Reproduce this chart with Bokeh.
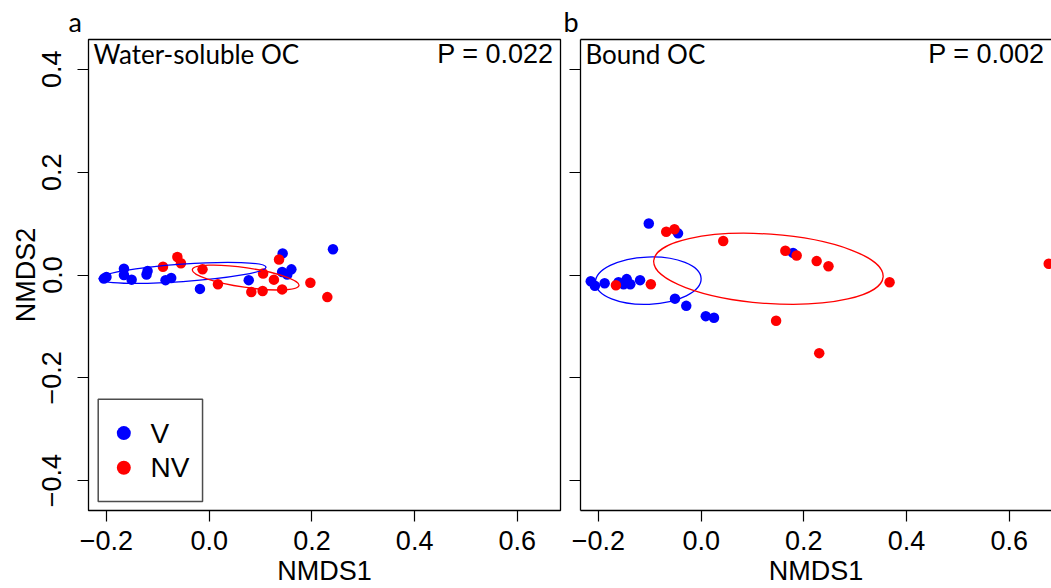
from bokeh.plotting import figure
from bokeh.models import Range1d, FixedTicker, LinearAxis, Label
from bokeh.layouts import row
from bokeh.embed import file_html
from bokeh.resources import INLINE

# ---------------- data ----------------
# Panel a: Water-soluble OC
a_v_x = [-0.205, -0.200, -0.166, -0.166, -0.151, -0.122, -0.120, -0.085, -0.074, -0.018, 0.077, 0.142, 0.143, 0.152, 0.160, 0.241]
a_v_y = [-0.007, -0.004, 0.012, 0.000, -0.009, 0.001, 0.008, -0.010, -0.006, -0.027, -0.010, 0.006, 0.042, 0.001, 0.011, 0.050]
a_nv_x = [-0.090, -0.062, -0.055, -0.013, 0.017, 0.082, 0.104, 0.105, 0.126, 0.136, 0.142, 0.197, 0.230]
a_nv_y = [0.016, 0.035, 0.023, 0.011, -0.018, -0.033, -0.031, 0.003, -0.009, 0.030, -0.028, -0.015, -0.043]

# Panel b: Bound OC
b_v_x = [-0.215, -0.207, -0.188, -0.161, -0.151, -0.145, -0.138, -0.119, -0.102, -0.051, -0.045, -0.029, 0.009, 0.025, 0.179]
b_v_y = [-0.012, -0.021, -0.016, -0.014, -0.018, -0.008, -0.018, -0.010, 0.100, -0.046, 0.081, -0.060, -0.080, -0.083, 0.043]
b_nv_x = [-0.166, -0.098, -0.068, -0.052, 0.043, 0.146, 0.164, 0.186, 0.225, 0.230, 0.248, 0.367, 0.677]
b_nv_y = [-0.020, -0.018, 0.084, 0.089, 0.066, -0.089, 0.047, 0.038, 0.027, -0.152, 0.017, -0.014, 0.022]

# group ellipses (V, NV): centre, full width, full height, angle (rad)
groups = ["V", "NV"]
group_colors = ["#0000FF", "#FF0000"]
a_ell_x = [-0.052, 0.071]
a_ell_y = [0.004, -0.005]
a_ell_w = [0.326, 0.210]
a_ell_h = [0.034, 0.038]
a_ell_angle = [0.07, -0.146]
b_ell_x = [-0.103, 0.131]
b_ell_y = [-0.011, 0.012]
b_ell_w = [0.206, 0.448]
b_ell_h = [0.092, 0.135]
b_ell_angle = [0.04, -0.07]

titles = ["Water-soluble OC", "Bound OC"]
p_values = ["P = 0.022", "P = 0.002"]
panel_letters = ["a", "b"]
x_ticks = [-0.2, 0.0, 0.2, 0.4, 0.6]
x_tick_labels = ["\u22120.2", "0.0", "0.2", "0.4", "0.6"]
y_ticks = [-0.4, -0.2, 0.0, 0.2, 0.4]
y_tick_labels = ["\u22120.4", "\u22120.2", "0.0", "0.2", "0.4"]

# ---------------- layout constants ----------------
PX = 513.4
XMIN, XMAX = -0.235, 0.684
YMIN, YMAX = -0.458, 0.458
FH = 471
FW_A = 472
FW_B = 471
XMAX_B = XMIN + FW_B / PX

TICK_FONT = "Liberation Sans"
TITLE_FONT = "Lato"
FS = "27px"


def style_axis(ax):
    ax.major_tick_out = 11
    ax.major_tick_in = 0
    ax.minor_tick_out = 0
    ax.minor_tick_in = 0
    ax.minor_tick_line_color = None
    ax.major_tick_line_color = "black"
    ax.major_tick_line_width = 1.2
    ax.major_label_text_font = TICK_FONT
    ax.major_label_text_font_size = FS
    ax.major_label_text_color = "black"
    ax.axis_label_text_font = TICK_FONT
    ax.axis_label_text_font_size = FS
    ax.axis_label_text_font_style = "normal"
    ax.axis_label_text_color = "black"


def make_panel(idx, xmax, fw, bl, br):
    p = figure(frame_width=fw, frame_height=FH,
               x_range=Range1d(XMIN, xmax), y_range=Range1d(YMIN, YMAX),
               output_backend="svg", toolbar_location=None,
               min_border_left=bl, min_border_right=br,
               min_border_top=39, min_border_bottom=70,
               background_fill_color="white", border_fill_color="white")
    p.xgrid.visible = False
    p.ygrid.visible = False
    xa = p.xaxis[0]
    ya = p.yaxis[0]
    xa.ticker = FixedTicker(ticks=x_ticks)
    ya.ticker = FixedTicker(ticks=y_ticks)
    style_axis(xa)
    style_axis(ya)
    xa.major_label_overrides = dict(zip(x_ticks, x_tick_labels))
    xa.axis_label = "NMDS1"
    xa.major_label_standoff = 9
    xa.axis_label_standoff = 3
    if idx == 0:
        ya.major_label_overrides = dict(zip(y_ticks, y_tick_labels))
        ya.major_label_orientation = "vertical"
        ya.major_label_standoff = 16
        ya.axis_label = "NMDS2"
        ya.axis_label_standoff = -1
    else:
        # right panel: tick marks only, no tick labels (as in the original)
        ya.major_label_overrides = {t: "" for t in y_ticks}
        ya.major_label_orientation = "horizontal"
        ya.major_label_standoff = 0
    # panel letter as the figure title, placed up-left of the frame
    p.title.text = panel_letters[idx]
    p.title.align = "left"
    p.title.offset = -20 if idx == 0 else -17
    p.title.standoff = 4
    p.title.text_font = TITLE_FONT
    p.title.text_font_size = FS
    p.title.text_font_style = "normal"
    p.title.text_color = "black"
    return p


pa = make_panel(0, XMAX, FW_A, 88, 3)
pb = make_panel(1, XMAX_B, FW_B, 17, 0)

# frames
pa.outline_line_color = "black"
pa.outline_line_width = 1.3
pa.xaxis[0].axis_line_color = None
pa.yaxis[0].axis_line_color = None

pb.outline_line_color = None
for ax in [pb.xaxis[0], pb.yaxis[0]]:
    ax.axis_line_color = "black"
    ax.axis_line_width = 1.3
top_ax = LinearAxis(ticker=FixedTicker(ticks=[]), axis_line_color="black", axis_line_width=1.3,
                    major_tick_line_color=None, minor_tick_line_color=None,
                    major_tick_out=0, major_label_standoff=0)
pb.add_layout(top_ax, "above")

# legend box (drawn first, under the markers)
pa.quad(left=[XMIN + 9.7 / PX], right=[XMIN + 114 / PX],
        bottom=[YMIN + 9 / PX], top=[YMIN + 111 / PX],
        fill_color="white", line_color="#4d4d4d", line_width=1.5)

# points & ellipses
panels = [
    (pa, a_v_x, a_v_y, a_nv_x, a_nv_y, a_ell_x, a_ell_y, a_ell_w, a_ell_h, a_ell_angle, XMAX),
    (pb, b_v_x, b_v_y, b_nv_x, b_nv_y, b_ell_x, b_ell_y, b_ell_w, b_ell_h, b_ell_angle, XMAX_B),
]
for i, (p, vx, vy, nx, ny, ex, ey, ew, eh, ea, xm) in enumerate(panels):
    p.scatter(vx, vy, size=10.5, color=group_colors[0], line_color=None)
    p.scatter(nx, ny, size=10.5, color=group_colors[1], line_color=None)
    for g in range(len(groups)):
        p.ellipse(x=[ex[g]], y=[ey[g]], width=[ew[g]], height=[eh[g]], angle=[ea[g]],
                  fill_color=None, line_color=group_colors[g], line_width=1.3)
    p.add_layout(Label(x=XMIN, y=YMAX, x_offset=5, y_offset=-14, text=titles[i],
                       text_font=TITLE_FONT, text_font_size="26px", text_color="black",
                       text_align="left", text_baseline="alphabetic"))
    p.add_layout(Label(x=xm, y=YMAX, x_offset=-7, y_offset=-14, text=p_values[i],
                       text_font=TICK_FONT, text_font_size=FS, text_color="black",
                       text_align="right", text_baseline="alphabetic"))

# legend markers and labels
leg_y = [YMIN + 77.3 / PX, YMIN + 42.7 / PX]
for g in range(len(groups)):
    pa.scatter([XMIN + 35.3 / PX], [leg_y[g]], size=14, color=group_colors[g], line_color=None)
    pa.add_layout(Label(x=XMIN + 62 / PX, y=leg_y[g], text=groups[g], text_font=TICK_FONT,
                        text_font_size="28px", text_color="black",
                        text_align="left", text_baseline="middle"))

layout = row(pa, pb)
open("out.html", "w").write(file_html(layout, INLINE))
